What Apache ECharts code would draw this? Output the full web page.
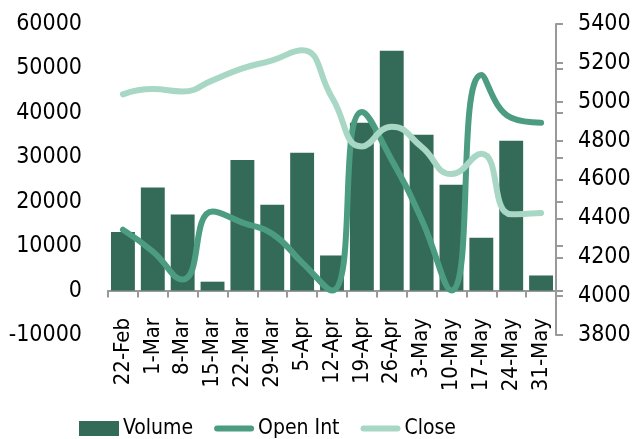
<!DOCTYPE html>
<html>
<head>
<meta charset="utf-8">
<script src="https://cdn.jsdelivr.net/npm/echarts@6/dist/echarts.min.js"></script>
<style>
html,body{margin:0;padding:0;background:#fff;}
#chart{width:635px;height:439px;}
</style>
</head>
<body>
<div id="chart"></div>
<script>
const categories = ['22-Feb','1-Mar','8-Mar','15-Mar','22-Mar','29-Mar','5-Apr','12-Apr','19-Apr','26-Apr','3-May','10-May','17-May','24-May','31-May'];
const volume = [13200, 23200, 17100, 2000, 29400, 19300, 31000, 7900, 37800, 54000, 35100, 23800, 11900, 33700, 3400];
const openInt = [13700, 8800, 2500, 17800, 15300, 12800, 6300, 0, 40200, 29400, 16000, 0, 48500, 38900, 37800];
const closePx = [5038, 5065, 5053, 5110, 5172, 5213, 5265, 5022, 4770, 4872, 4768, 4628, 4732, 4421, 4428];
const leftTicks = {min: -10000, max: 60000, interval: 10000};
const rightTicks = {min: 3800, max: 5400, interval: 200};

const FONT = 'DejaVu Sans Condensed';
const LINE_ICON = 'path://M3,0 L37,0 A3,3 0 0 1 37,6 L3,6 A3,3 0 0 1 3,0 Z';
const plain = v => String(v);
const chart = echarts.init(document.getElementById('chart'), null, {renderer: 'canvas'});
chart.setOption({
  animation: false,
  backgroundColor: '#ffffff',
  textStyle: {fontFamily: FONT},
  grid: {left: 108, right: 79, top: 24, bottom: 104, containLabel: false, outerBoundsMode: 'none'},
  legend: {
    left: 79, top: 418, padding: 0,
    itemWidth: 40, itemHeight: 15, itemGap: 21,
    textStyle: {fontFamily: FONT, fontSize: 21, color: '#000', padding: [0, 0, 0, -1]},
    data: [
      {name: 'Volume', icon: 'rect'},
      {name: 'Open Int', icon: LINE_ICON},
      {name: 'Close', icon: LINE_ICON}
    ]
  },
  xAxis: {
    type: 'category',
    data: categories,
    axisLine: {show: true, onZero: true, onZeroAxisIndex: 0, lineStyle: {color: '#999', width: 2}},
    axisTick: {show: true, length: 7, lineStyle: {color: '#999', width: 2}},
    axisLabel: {rotate: 90, fontFamily: FONT, fontSize: 22, color: '#000', margin: -17, interval: 0},
    splitLine: {show: false}
  },
  yAxis: [
    {
      type: 'value',
      min: leftTicks.min, max: leftTicks.max, interval: leftTicks.interval,
      axisLine: {show: false},
      axisTick: {show: false},
      splitLine: {show: false},
      axisLabel: {fontFamily: FONT, fontSize: 23, color: '#000', margin: 26, formatter: plain}
    },
    {
      type: 'value',
      position: 'right',
      min: rightTicks.min, max: rightTicks.max, interval: rightTicks.interval,
      axisLine: {show: true, lineStyle: {color: '#999', width: 2}},
      axisTick: {show: true, length: 7, inside: false, lineStyle: {color: '#999', width: 2}},
      splitLine: {show: false},
      axisLabel: {fontFamily: FONT, fontSize: 23, color: '#000', margin: 22, formatter: plain}
    },
    {
      type: 'value',
      position: 'right',
      min: leftTicks.min, max: leftTicks.max, interval: leftTicks.interval,
      axisLine: {show: false},
      axisTick: {show: true, length: 7, inside: false, lineStyle: {color: '#999', width: 2}},
      splitLine: {show: false},
      axisLabel: {show: false}
    }
  ],
  series: [
    {
      name: 'Volume', type: 'bar', yAxisIndex: 0, data: volume,
      barCategoryGap: '20%',
      itemStyle: {color: '#336b58'}
    },
    {
      name: 'Open Int', type: 'line', yAxisIndex: 0, data: openInt,
      smooth: 0.5, symbol: 'none',
      lineStyle: {color: '#4b9c80', width: 6, cap: 'round', join: 'round'},
      itemStyle: {color: '#4b9c80'}
    },
    {
      name: 'Close', type: 'line', yAxisIndex: 1, data: closePx,
      smooth: 0.5, symbol: 'none',
      lineStyle: {color: '#a8d8c5', width: 6, cap: 'round', join: 'round'},
      itemStyle: {color: '#a8d8c5'}
    }
  ]
});
</script>
</body>
</html>
